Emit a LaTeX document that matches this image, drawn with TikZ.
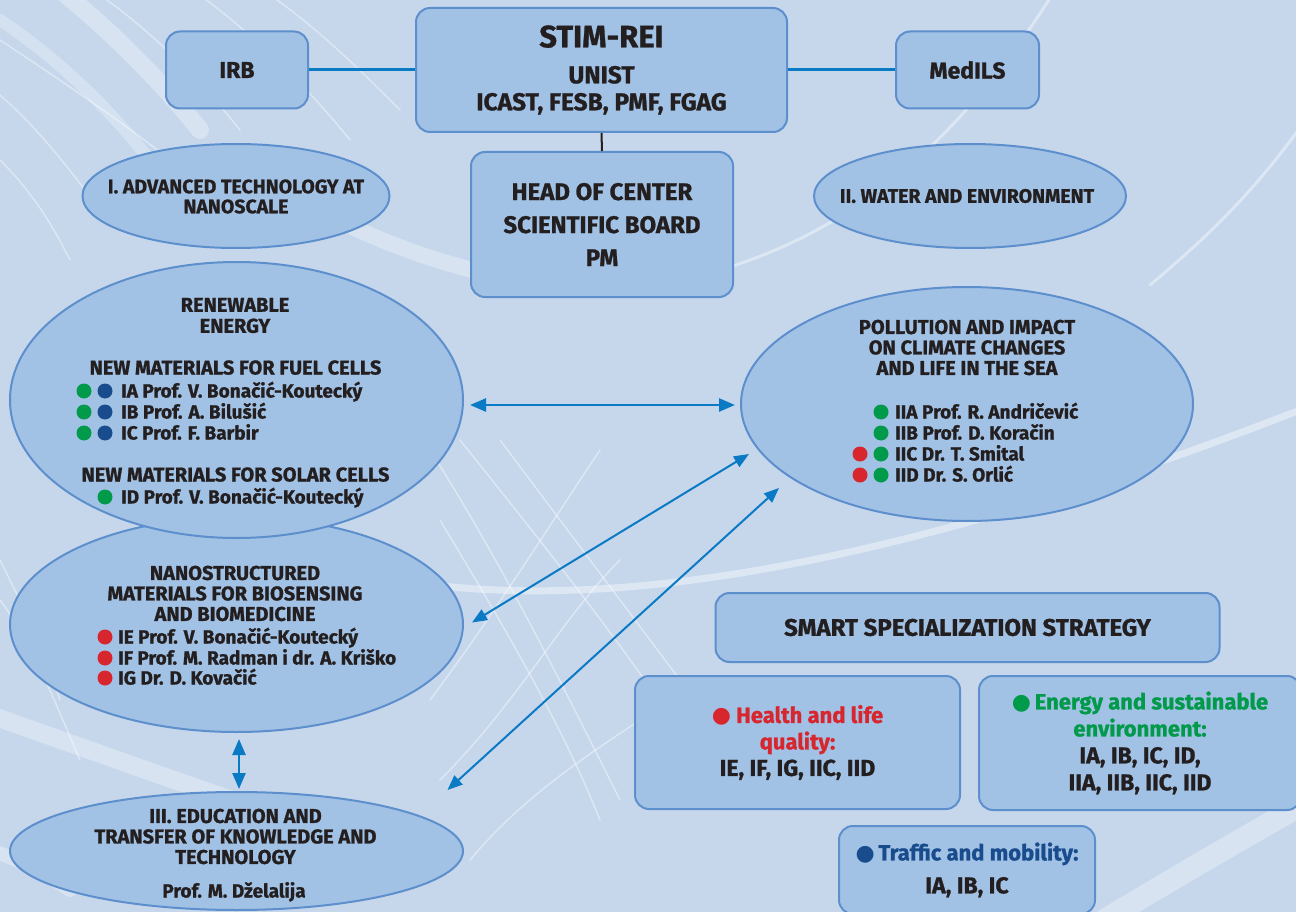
\documentclass[tikz,border=0pt]{standalone}
\usepackage{fontspec}
\setmainfont{Fira Sans}[BoldFeatures={FakeBold=1}]
\newfontfamily\symf{DejaVu Sans}
\usetikzlibrary{shapes.geometric,arrows.meta}
\definecolor{bgc}{HTML}{C6D7EC}
\definecolor{nodefill}{HTML}{A2C2E5}
\definecolor{rimc}{HTML}{5D8FCD}
\definecolor{arrowc}{HTML}{0A7AC4}
\definecolor{ink}{HTML}{231F20}
\definecolor{redc}{HTML}{D7262E}
\definecolor{greenc}{HTML}{009A4A}
\definecolor{bluec}{HTML}{184C8D}
\newcommand\myfs[2]{\fontsize{#1}{#2}\selectfont\bfseries}
\newcommand\bul{{\symf\mdseries ●}}
\begin{document}
\begin{tikzpicture}[x=1pt,y=-1pt,
  box/.style={draw=rimc, fill=nodefill, line width=2pt, rounded corners=14pt,
    inner sep=0pt, align=center, text=ink},
  oval/.style={ellipse, draw=rimc, fill=nodefill, line width=2pt, inner sep=0pt,
    align=center, text=ink},
  hd/.style={text=ink, inner sep=0pt, align=center, font=\myfs{20}{20.5}},
  row/.style={text=ink, inner sep=0pt, anchor=west, text height=13pt, text depth=0pt,
    font=\myfs{19}{21}},
  hrow/.style={row, anchor=center, font=\myfs{20}{21}},
  arr/.style={draw=arrowc, line width=2.5pt,
    {Triangle[length=16pt,width=13pt]}-{Triangle[length=16pt,width=13pt]}},
  arrd/.style={arr, line width=2pt,
    {Triangle[length=15pt,width=12pt]}-{Triangle[length=15pt,width=12pt]}},
  deco/.style={draw=white, opacity=0.4, line cap=round},
  gdot/.style={fill=greenc},
  bdot/.style={fill=bluec},
  rdot/.style={fill=redc},
]
\useasboundingbox (0,0) rectangle (1296,912);
\fill[bgc] (0,0) rectangle (1296,912);

% ---------- background decoration ----------
\begin{scope}
\clip (0,0) rectangle (1296,912);
\draw[deco, line width=3pt] (1052,-5) .. controls (960,140) and (850,240) .. (690,278);
\draw[deco, line width=16pt, opacity=.3] (300,200) .. controls (380,245) and (450,268) .. (540,285);
\draw[deco, line width=3pt] (1302,125) .. controls (1255,190) and (1210,235) .. (1150,285);
\draw[deco, line width=7pt] (350,570) .. controls (520,612) and (800,605) .. (1300,410);
\draw[deco, line width=22pt, opacity=.3] (1080,935) .. controls (1170,880) and (1240,840) .. (1310,800);
\draw[deco, line width=18pt, opacity=.3] (-10,715) .. controls (90,750) and (200,790) .. (320,830);
\draw[deco, line width=14pt, opacity=.3] (-10,850) .. controls (20,860) and (40,870) .. (70,890);
\draw[deco, line width=18pt, opacity=.3] (60,-10) .. controls (110,30) and (160,80) .. (200,130);
\draw[deco, line width=12pt, opacity=.25] (0,20) .. controls (60,60) and (110,110) .. (150,160);
\draw[deco, line width=1.5pt] (0,40) .. controls (60,80) and (120,120) .. (170,160);
\draw[deco, line width=1.5pt] (0,95) .. controls (40,130) and (70,170) .. (100,210);
\draw[deco, line width=1.5pt] (100,-5) .. controls (150,30) and (200,80) .. (240,130);
\draw[deco, line width=1.5pt] (200,-5) .. controls (260,40) and (310,90) .. (350,140);
\draw[deco, line width=1.5pt] (270,-5) .. controls (320,30) and (360,70) .. (400,110);
\draw[deco, line width=1.5pt] (0,160) .. controls (30,190) and (50,220) .. (70,260);
\draw[deco, line width=1.5pt] (430,450) .. controls (500,560) and (560,680) .. (620,800);
\draw[deco, line width=1.5pt] (460,440) .. controls (540,540) and (620,640) .. (700,760);
\draw[deco, line width=1.5pt] (440,520) .. controls (500,620) and (560,720) .. (600,820);
\draw[deco, line width=1.5pt] (500,440) .. controls (560,520) and (620,600) .. (680,680);
\draw[deco, line width=1.5pt] (430,700) .. controls (490,620) and (540,540) .. (600,450);
\draw[deco, line width=1.5pt] (440,780) .. controls (520,700) and (560,620) .. (620,560);
\draw[deco, line width=1.5pt] (470,860) .. controls (520,800) and (580,760) .. (640,720);
\draw[deco, line width=1.5pt] (0,560) .. controls (20,600) and (40,640) .. (60,700);
\draw[deco, line width=1.5pt] (0,600) .. controls (30,640) and (50,690) .. (80,760);
\end{scope}

% ---------- top boxes ----------
\node[box, minimum width=371pt, minimum height=124pt, font=\myfs{24.5}{27}] (stim) at (601.5,70)
  {{\myfs{31}{34}STIM-REI}\\[9pt]UNIST\\ICAST, FESB, PMF, FGAG};
\node[box, minimum width=142pt, minimum height=77pt, font=\myfs{23}{27}] (irb) at (237,70) {IRB};
\node[box, minimum width=143pt, minimum height=77pt, font=\myfs{23}{27}] (medils) at (967.5,70) {MedILS};
\node[box, minimum width=262pt, minimum height=145pt, font=\myfs{24}{33}] (head) at (602,224.5)
  {HEAD OF CENTER\\SCIENTIFIC BOARD\\PM};
\draw[arrowc, line width=3pt] (irb.east) -- (stim.west);
\draw[arrowc, line width=3pt] (stim.east) -- (medils.west);
\draw[ink, line width=2pt] (stim.south) -- (head.north);

% ---------- pillar ellipses ----------
\node[oval, minimum width=307pt, minimum height=104pt] (e1) at (236,196) {};
\node[hd, font=\myfs{19.5}{20}] (e1-t) at (236,196.5) {I. ADVANCED TECHNOLOGY AT\\NANOSCALE};
\node[oval, minimum width=312pt, minimum height=104pt] (e2) at (970,196) {};
\node[hd, font=\myfs{19.5}{20}] (e2-t) at (967,196) {II. WATER AND ENVIRONMENT};

% ---------- nanostructured (behind renewable) ----------
\node[oval, minimum width=453pt, minimum height=215pt] (nano) at (236.5,624.5) {};
\node[hd] (nano-h) at (235,593.5) {NANOSTRUCTURED\\MATERIALS FOR BIOSENSING\\AND BIOMEDICINE};
\node[row] (rIE) at (118,637) {IE Prof. V. Bonačić-Koutecký};
\node[row] (rIF) at (118,658) {IF Prof. M. Radman i dr. A. Kriško};
\node[row] (rIG) at (118,678) {IG Dr. D. Kovačić};
\foreach \y in {637,658,678} \fill[rdot] (105,\y) circle[radius=7.5pt];

% ---------- renewable ----------
\node[oval, minimum width=453pt, minimum height=276pt] (ren) at (236.5,400) {};
\node[hd, font=\myfs{20}{21}] (ren-h1) at (235,315.5) {RENEWABLE\\ENERGY};
\node[hrow] (ren-h2) at (235.5,368) {NEW MATERIALS FOR FUEL CELLS};
\node[row] (rIA) at (121,391) {IA Prof. V. Bonačić-Koutecký};
\node[row] (rIB) at (121,412) {IB Prof. A. Bilušić};
\node[row] (rIC) at (121,433) {IC Prof. F. Barbir};
\node[hrow] (ren-h3) at (235.5,475) {NEW MATERIALS FOR SOLAR CELLS};
\node[row] (rID) at (121,497) {ID Prof. V. Bonačić-Koutecký};
\foreach \y in {391,412,433} {\fill[gdot] (84,\y) circle[radius=7.5pt]; \fill[bdot] (105,\y) circle[radius=7.5pt];}
\fill[gdot] (105,497) circle[radius=7.5pt];

% ---------- pollution ----------
\node[oval, minimum width=452pt, minimum height=234pt] (poll) at (967,404) {};
\node[hd] (poll-h) at (967,347.5) {POLLUTION AND IMPACT\\ON CLIMATE CHANGES\\AND LIFE IN THE SEA};
\node[row] (rIIA) at (895,412) {IIA Prof. R. Andričević};
\node[row] (rIIB) at (895,433) {IIB Prof. D. Koračin};
\node[row] (rIIC) at (895,454) {IIC Dr. T. Smital};
\node[row] (rIID) at (895,475) {IID Dr. S. Orlić};
\foreach \y in {412,433,454,475} \fill[gdot] (881,\y) circle[radius=7.5pt];
\foreach \y in {454,475} \fill[rdot] (860,\y) circle[radius=7.5pt];

% ---------- education ----------
\node[oval, minimum width=453pt, minimum height=118pt] (edu) at (236.5,851) {};
\node[hd] (edu-h) at (235.5,836.5) {III. EDUCATION AND\\TRANSFER OF KNOWLEDGE AND\\TECHNOLOGY};
\node[row, anchor=center] (edu-p) at (234,891) {Prof. M. Dželalija};

% ---------- smart specialization ----------
\node[box, minimum width=504pt, minimum height=69pt, font=\myfs{24}{26}] (smart) at (967.5,627.5)
  {SMART SPECIALIZATION STRATEGY};
\node[box, minimum width=325pt, minimum height=133pt, font=\myfs{23}{26.5}] (health) at (797.5,742.5)
  {\textcolor{redc}{\myfs{22}{26.5}\bul\ Health and life}\\\textcolor{redc}{\myfs{22}{26.5}quality:}\\IE, IF, IG, IIC, IID};
\node[box, minimum width=322pt, minimum height=134pt, font=\myfs{23}{27}] (energy) at (1140,743)
  {\textcolor{greenc}{\myfs{22}{27}\bul\,Energy and sustainable}\\\textcolor{greenc}{\myfs{22}{27}environment:}\\IA, IB, IC, ID,\\IIA, IIB, IIC, IID};
\node[box, minimum width=256pt, minimum height=88pt, font=\myfs{23}{33}] (traffic) at (967,870)
  {\textcolor{bluec}{\myfs{22}{33}\bul\,Traffic and mobility:}\\IA, IB, IC};

% ---------- connectors ----------
\draw[arr] ([shift={(6,5)}]ren.east) -- ([shift={(-5,1)}]poll.west);
\draw[arrd] ([shift={(8,-2)}]nano.east) -- ([shift={(9,50)}]poll.west);
\draw[arrd] ([shift={(211,-1)}]edu.north) -- ([shift={(39,84)}]poll.west);
\draw[arr] ([shift={(2.5,6)}]nano.south) -- ([shift={(2.5,-2)}]edu.north);
\end{tikzpicture}
\end{document}
